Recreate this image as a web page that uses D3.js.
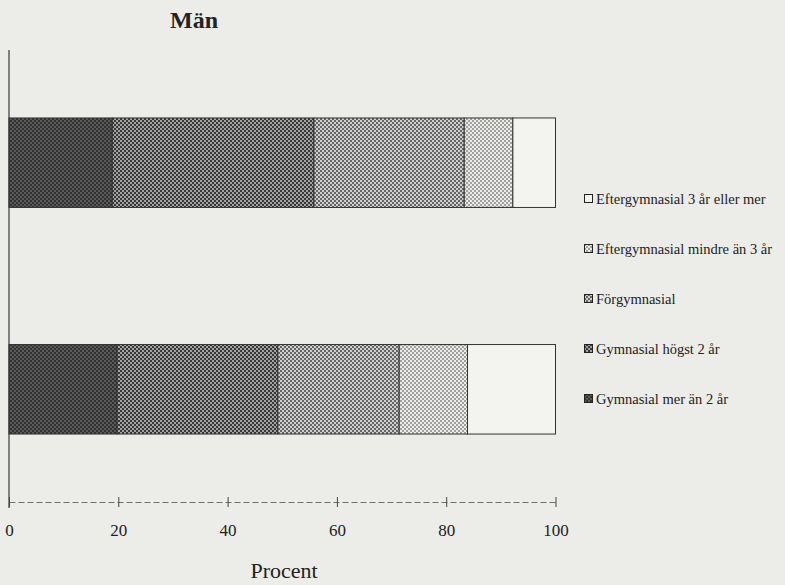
<!DOCTYPE html>
<html>
<head>
<meta charset="utf-8">
<script src="https://cdn.jsdelivr.net/npm/d3@7/dist/d3.min.js"></script>
<style>
  html, body { margin: 0; padding: 0; background: #ecece8; }
  svg { display: block; }
  text { font-family: "Liberation Serif", "Times New Roman", serif; fill: #222; }
</style>
</head>
<body>
<svg id="chart" width="785" height="585"></svg>
<script>
// Educational level, men, two groups (percent, stacked to 100)
const categories = ["Grupp 1", "Grupp 2"];
const seriesNames = [
  "Gymnasial mer än 2 år",
  "Gymnasial högst 2 år",
  "Förgymnasial",
  "Eftergymnasial mindre än 3 år",
  "Eftergymnasial 3 år eller mer"
];
const group1 = [18.9, 36.9, 27.5, 8.9, 7.8];
const group2 = [19.8, 29.4, 22.2, 12.5, 16.1];
const xTicks = [0, 20, 40, 60, 80, 100];

const title = "Män";
const xTitle = "Procent";

// halftone-like fills, darkest to lightest: [base, dot]
const shades = [
  ["#323232", "#5a5a5a"],
  ["#383838", "#a2a2a2"],
  ["#666666", "#cfcfcf"],
  ["#ebebe7", "#a0a0a0"],
  ["#f3f3ef", "#f3f3ef"]
];

const svg = d3.select("#chart");
const defs = svg.append("defs");
shades.forEach((s, i) => {
  const p = defs.append("pattern")
    .attr("id", "fill" + i)
    .attr("patternUnits", "userSpaceOnUse")
    .attr("width", 4).attr("height", 4);
  p.append("rect").attr("width", 4).attr("height", 4).attr("fill", s[0]);
  p.append("rect").attr("x", 0).attr("y", 0).attr("width", 2).attr("height", 2).attr("fill", s[1]);
  p.append("rect").attr("x", 2).attr("y", 2).attr("width", 2).attr("height", 2).attr("fill", s[1]);
});

const plot = { left: 9, right: 555.5, top: 50, bottom: 502 };

const x = d3.scaleLinear().domain([0, 100]).range([plot.left, plot.right]);
const y = d3.scaleBand().domain(categories)
  .range([plot.top, plot.bottom])
  .paddingInner(0.605).paddingOuter(0.3);

const rows = categories.map((c, i) => {
  const vals = i === 0 ? group1 : group2;
  const row = { cat: c };
  seriesNames.forEach((s, j) => row[s] = vals[j]);
  return row;
});
const stacked = d3.stack().keys(seriesNames)(rows);

// bars
const g = svg.append("g");
stacked.forEach((layer, si) => {
  g.selectAll(null).data(layer).join("rect")
    .attr("x", d => x(d[0]))
    .attr("y", d => y(d.data.cat))
    .attr("width", d => x(d[1]) - x(d[0]))
    .attr("height", y.bandwidth())
    .attr("fill", "url(#fill" + si + ")")
    .attr("stroke", "#333")
    .attr("stroke-width", 1);
});

// left axis line
svg.append("line")
  .attr("x1", plot.left).attr("x2", plot.left)
  .attr("y1", plot.top).attr("y2", plot.bottom + 6)
  .attr("stroke", "#3a3a3a").attr("stroke-width", 1.2);

// bottom axis
const xAxis = d3.axisBottom(x).tickValues(xTicks).tickSize(0).tickPadding(0);
const ax = svg.append("g").attr("transform", `translate(0,${plot.bottom})`).call(xAxis);
ax.select(".domain")
  .attr("stroke", "#707070").attr("stroke-width", 1)
  .attr("stroke-dasharray", "6,3");
ax.selectAll(".tick line")
  .attr("y1", -5).attr("y2", 5)
  .attr("stroke", "#444").attr("stroke-width", 1);
ax.selectAll(".tick text")
  .attr("y", 34)
  .attr("dy", 0)
  .style("font-family", '"Liberation Serif", "Times New Roman", serif')
  .style("font-size", "17px")
  .attr("fill", "#222");

// titles
svg.append("text")
  .attr("x", 194).attr("y", 28)
  .attr("text-anchor", "middle")
  .style("font-size", "24px").style("font-weight", "bold")
  .text(title);

svg.append("text")
  .attr("x", 284).attr("y", 578)
  .attr("text-anchor", "middle")
  .style("font-size", "22px")
  .text(xTitle);

// legend (reverse stack order)
const legendItems = seriesNames.map((s, i) => ({ name: s, idx: i })).reverse();
const leg = svg.append("g");
legendItems.forEach((d, i) => {
  const cy = 199 + i * 50;
  leg.append("rect")
    .attr("x", 584.5).attr("y", cy - 4.5)
    .attr("width", 8).attr("height", 8)
    .attr("fill", "url(#fill" + d.idx + ")")
    .attr("stroke", "#222").attr("stroke-width", 1);
  leg.append("text")
    .attr("x", 596).attr("y", cy + 5)
    .style("font-size", "14.5px")
    .text(d.name);
});
</script>
</body>
</html>
